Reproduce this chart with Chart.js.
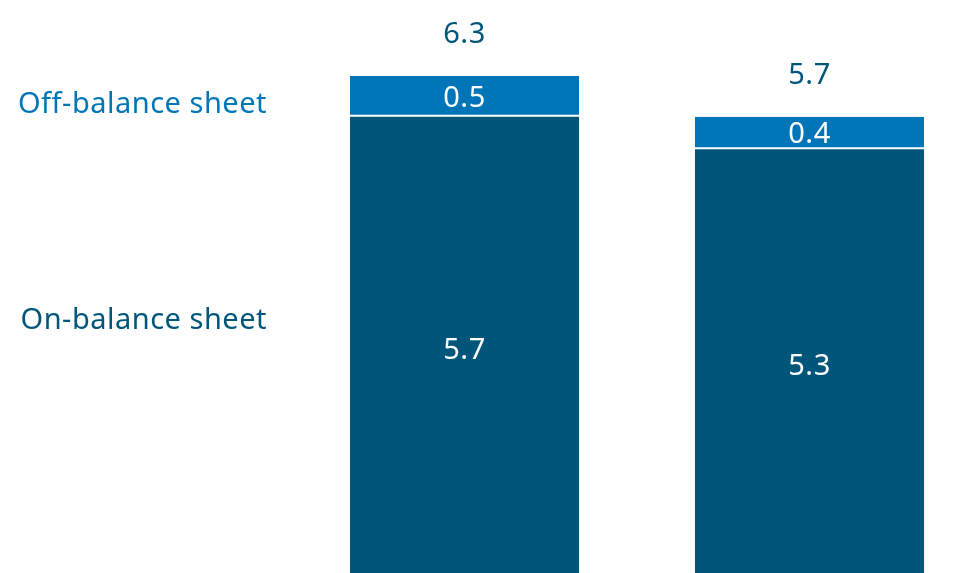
<!DOCTYPE html>
<html>
<head>
<meta charset="utf-8">
<script src="https://cdn.jsdelivr.net/npm/chart.js@4.4.0/dist/chart.umd.min.js"></script>
<style>
  html, body { margin: 0; padding: 0; background: #fff; overflow: hidden; }
  #wrap { position: relative; width: 982px; height: 580px; }
</style>
</head>
<body>
<div id="wrap"><canvas id="chart"></canvas></div>
<script>
  const categories = ["A", "B"];
  const onBalance = [5.7, 5.3];
  const offBalance = [0.5, 0.4];
  const totals = ["6.3", "5.7"];
  const seriesNames = ["On-balance sheet", "Off-balance sheet"];

  const darkTeal = "#00567a";
  const blue = "#0076b8";
  const fontFamily = "'Noto Sans', sans-serif";

  // value labels inside bars, totals above, series names on the left
  const labelPlugin = {
    id: "labels",
    afterDatasetsDraw(chart) {
      const ctx = chart.ctx;
      ctx.save();
      ctx.font = "29px " + fontFamily;
      ctx.letterSpacing = "0.5px";
      ctx.textAlign = "center";
      ctx.textBaseline = "middle";

      chart.data.datasets.forEach((ds, i) => {
        chart.getDatasetMeta(i).data.forEach((bar, j) => {
          const mid = (bar.y + bar.base) / 2;
          ctx.fillStyle = "#ffffff";
          ctx.fillText(ds.data[j].toFixed(1), bar.x, mid + 2);
        });
      });

      const topMeta = chart.getDatasetMeta(1);
      topMeta.data.forEach((bar, j) => {
        ctx.fillStyle = darkTeal;
        ctx.fillText(totals[j], bar.x, bar.y - 41);
      });

      ctx.textAlign = "right";
      ctx.fillStyle = blue;
      ctx.fillText(seriesNames[1], 267, 105);
      ctx.fillStyle = darkTeal;
      ctx.fillText(seriesNames[0], 267, 321);
      ctx.restore();
    }
  };

  new Chart(document.getElementById("chart"), {
    type: "bar",
    data: {
      labels: categories,
      datasets: [
        {
          label: seriesNames[0],
          data: onBalance,
          backgroundColor: darkTeal,
          borderWidth: 0
        },
        {
          label: seriesNames[1],
          data: offBalance,
          backgroundColor: blue,
          borderColor: "#ffffff",
          borderWidth: { top: 0, left: 0, right: 0, bottom: 2 },
          borderSkipped: false
        }
      ]
    },
    options: {
      responsive: true,
      maintainAspectRatio: false,
      animation: false,
      layout: { padding: { left: 292, right: 0, top: 11, bottom: 0 } },
      datasets: { bar: { barPercentage: 1, categoryPercentage: 0.664 } },
      scales: {
        x: { stacked: true, display: false },
        y: { stacked: true, display: false, min: 0, max: 7 }
      },
      plugins: {
        legend: { display: false },
        tooltip: { enabled: false }
      }
    },
    plugins: [labelPlugin]
  });
</script>
</body>
</html>
